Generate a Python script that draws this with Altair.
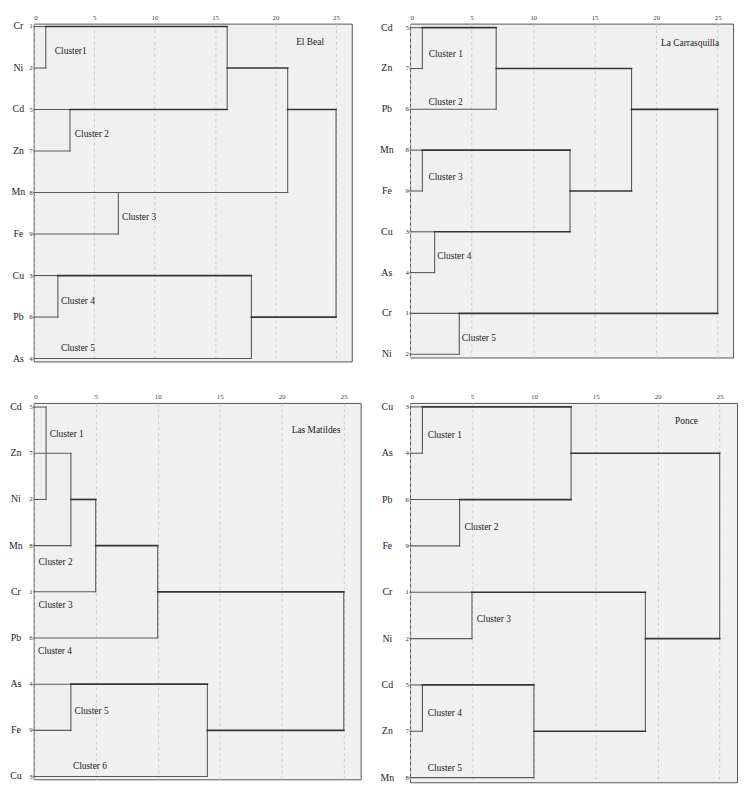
import altair as alt
import pandas as pd

SERIF = "Liberation Serif, Times New Roman, Tinos, DejaVu Serif, serif"

# ---------------- El Beal ----------------
beal_elems = ["Cr", "Ni", "Cd", "Zn", "Mn", "Fe", "Cu", "Pb", "As"]
beal_nums = ["1", "2", "5", "7", "8", "9", "3", "6", "4"]
beal_height = [1, 3, 16, 7, 21, 2, 18, 25]
beal_row_a = [1, 3, 1, 5, 2, 7, 7, 3]
beal_from_a = [0, 0, 1, 0, 16, 0, 2, 21]
beal_row_b = [2, 4, 3, 6, 5, 8, 9, 8]
beal_from_b = [0, 0, 3, 0, 0, 0, 0, 18]
beal_clusters = ["Cluster1", "Cluster 2", "Cluster 3", "Cluster 4", "Cluster 5"]
beal_cl_x = [1.75, 3.4, 7.3, 2.25, 2.25]
beal_cl_y = [1.58, 3.6, 5.58, 7.62, 8.74]

# ---------------- La Carrasquilla ----------------
carr_elems = ["Cd", "Zn", "Pb", "Mn", "Fe", "Cu", "As", "Cr", "Ni"]
carr_nums = ["5", "7", "6", "8", "9", "3", "4", "1", "2"]
carr_height = [1, 7, 1, 2, 13, 18, 4, 25]
carr_row_a = [1, 1, 4, 6, 4, 2, 8, 3]
carr_from_a = [0, 1, 0, 0, 1, 7, 0, 18]
carr_row_b = [2, 3, 5, 7, 6, 5, 9, 8]
carr_from_b = [0, 0, 0, 0, 2, 13, 0, 4]
carr_clusters = ["Cluster 1", "Cluster 2", "Cluster 3", "Cluster 4", "Cluster 5"]
carr_cl_x = [1.52, 1.5, 1.5, 2.21, 4.21]
carr_cl_y = [1.64, 2.81, 4.66, 6.6, 8.6]

# ---------------- Las Matildes ----------------
mat_elems = ["Cd", "Zn", "Ni", "Mn", "Cr", "Pb", "As", "Fe", "Cu"]
mat_nums = ["5", "7", "2", "8", "1", "6", "4", "9", "3"]
mat_height = [1, 3, 5, 10, 3, 14, 25]
mat_row_a = [1, 2, 3, 4, 7, 7, 5]
mat_from_a = [0, 0, 3, 5, 0, 3, 10]
mat_row_b = [3, 4, 5, 6, 8, 9, 8]
mat_from_b = [0, 0, 0, 0, 0, 0, 14]
mat_clusters = ["Cluster 1", "Cluster 2", "Cluster 3", "Cluster 4", "Cluster 5", "Cluster 6"]
mat_cl_x = [1.29, 0.39, 0.39, 0.34, 3.29, 3.16]
mat_cl_y = [1.58, 4.36, 5.29, 6.29, 7.58, 8.77]

# ---------------- Ponce ----------------
pon_elems = ["Cu", "As", "Pb", "Fe", "Cr", "Ni", "Cd", "Zn", "Mn"]
pon_nums = ["3", "4", "6", "9", "1", "2", "5", "7", "8"]
pon_height = [1, 4, 13, 5, 1, 10, 19, 25]
pon_row_a = [1, 3, 1, 5, 7, 7, 5, 2]
pon_from_a = [0, 0, 1, 0, 0, 1, 5, 13]
pon_row_b = [2, 4, 3, 6, 8, 9, 8, 6]
pon_from_b = [0, 0, 4, 0, 0, 0, 10, 19]
pon_clusters = ["Cluster 1", "Cluster 2", "Cluster 3", "Cluster 4", "Cluster 5"]
pon_cl_x = [1.43, 4.39, 5.39, 1.43, 1.43]
pon_cl_y = [1.6, 3.6, 5.57, 7.6, 8.8]

TICKS = [0, 5, 10, 15, 20, 25]


def panel(elems, nums, h, ra, fa, rb, fb, cl, clx, cly, title, tx, ty,
          xmax, ydom, width, height, name_off):
    segs = []
    for hh, a, f1, b, f2 in zip(h, ra, fa, rb, fb):
        segs.append(dict(x=hh, x2=hh, y=a, y2=b, sw=1.1, c="#5a5a5a"))
        for f, r in ((f1, a), (f2, b)):
            link = f > 0
            segs.append(dict(x=f, x2=hh, y=r, y2=r,
                             sw=1.7 if link else 1.1,
                             c="#353535" if link else "#5a5a5a"))
    seg_df = pd.DataFrame(segs)

    xs = alt.Scale(domain=[0, xmax], nice=False, zero=False)
    ys = alt.Scale(domain=ydom, reverse=True, nice=False, zero=False)
    xaxis = alt.Axis(orient="top", values=TICKS, grid=True, gridDash=[3, 3],
                     gridColor="#c4c4c4", gridWidth=0.8, domain=False, ticks=False,
                     labelFontSize=7, labelColor="#444", labelPadding=3,
                     title=None, labelFont=SERIF)
    X = alt.X("x:Q", scale=xs, axis=xaxis)
    Y = alt.Y("y:Q", scale=ys, axis=None)

    rules = alt.Chart(seg_df).mark_rule(strokeCap="square").encode(
        x=X, x2="x2:Q", y=Y, y2="y2:Q",
        strokeWidth=alt.StrokeWidth("sw:Q", scale=None),
        color=alt.Color("c:N", scale=None))

    leaf_df = pd.DataFrame({"y": list(range(1, len(elems) + 1)),
                            "name": elems, "num": nums})
    names = alt.Chart(leaf_df).mark_text(
        align="center", baseline="middle", fontSize=10, font=SERIF, color="#222"
    ).encode(x=alt.value(name_off), y=Y, text="name:N")
    numbers = alt.Chart(leaf_df).mark_text(
        align="right", baseline="middle", fontSize=7, font=SERIF, color="#333"
    ).encode(x=alt.value(-1), y=Y, text="num:N")

    cl_df = pd.DataFrame({"x": clx, "y": cly, "label": cl})
    clusters = alt.Chart(cl_df).mark_text(
        align="left", baseline="middle", fontSize=9.5, font=SERIF, color="#222"
    ).encode(x=X, y=Y, text="label:N")

    t_df = pd.DataFrame({"x": [tx], "y": [ty], "label": [title]})
    ttl = alt.Chart(t_df).mark_text(
        align="left", baseline="middle", fontSize=9.5, font=SERIF, color="#222"
    ).encode(x=X, y=Y, text="label:N")

    return alt.layer(rules, names, numbers, clusters, ttl).properties(
        width=width, height=height)


p1 = panel(beal_elems, beal_nums, beal_height, beal_row_a, beal_from_a, beal_row_b,
           beal_from_b, beal_clusters, beal_cl_x, beal_cl_y, "El Beal", 21.7, 1.37,
           26.3, [0.93, 9.07], 322, 342, -15.5)
p2 = panel(carr_elems, carr_nums, carr_height, carr_row_a, carr_from_a, carr_row_b,
           carr_from_b, carr_clusters, carr_cl_x, carr_cl_y, "La Carrasquilla", 20.4, 1.38,
           26.25, [0.9, 9.08], 327, 338, -23.5)
p3 = panel(mat_elems, mat_nums, mat_height, mat_row_a, mat_from_a, mat_row_b,
           mat_from_b, mat_clusters, mat_cl_x, mat_cl_y, "Las Matildes", 20.8, 1.49,
           26.36, [0.91, 9.06], 331, 381, -18)
p4 = panel(pon_elems, pon_nums, pon_height, pon_row_a, pon_from_a, pon_row_b,
           pon_from_b, pon_clusters, pon_cl_x, pon_cl_y, "Ponce", 21.4, 1.3,
           26.4, [0.915, 9.1], 331, 384, -23)

chart = alt.concat(p1, p2, p3, p4, columns=2, spacing={"row": 42, "column": 50},
                   bounds="flush", align="each").properties(
    padding={"top": 0, "left": 0, "right": 0, "bottom": 0},
    autosize=alt.AutoSizeParams(type="pad")
).configure(padding={"top": 0, "left": 0, "right": 0, "bottom": 0}).configure_view(
    fill="#f0f0f0", stroke="#555", strokeWidth=1)

chart.save("out.html", embed_options={"renderer": "svg", "actions": False})
